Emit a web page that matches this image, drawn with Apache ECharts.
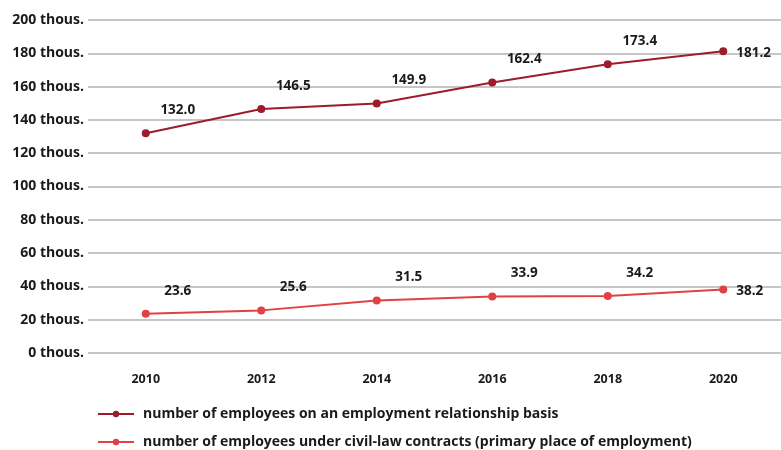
<!DOCTYPE html>
<html>
<head>
<meta charset="utf-8">
<script src="https://cdn.jsdelivr.net/npm/echarts@6/dist/echarts.min.js"></script>
<style>
html, body { margin: 0; padding: 0; background: #fff; }
#chart { width: 781px; height: 450px; }
</style>
</head>
<body>
<div id="chart"></div>
<script>
const years = ["2010", "2012", "2014", "2016", "2018", "2020"];
const employmentBasis = [132.0, 146.5, 149.9, 162.4, 173.4, 181.2];
const civilLaw = [23.6, 25.6, 31.5, 33.9, 34.2, 38.2];
const seriesNames = [
    "number of employees on an employment relationship basis",
    "number of employees under civil-law contracts (primary place of employment)"
];

const chart = echarts.init(document.getElementById("chart"));
const font = "'Open Sans', sans-serif";

function lineSeries(name, data, color) {
    return {
        name: name,
        type: "line",
        data: data.map((v, i) => ({
            value: v,
            label: i === data.length - 1
                ? { position: "right", offset: [4, 2] }
                : { position: "top", offset: [32, -7] }
        })),
        symbol: "circle",
        symbolSize: 8,
        itemStyle: { color: color },
        lineStyle: { color: color, width: 2 },
        label: {
            show: true,
            color: "#1a1a1a",
            fontFamily: font,
            fontWeight: "bold",
            fontSize: 13.5,
            formatter: p => p.value.toFixed(1)
        }
    };
}

chart.setOption({
    animation: false,
    textStyle: { fontFamily: font },
    grid: { left: 88, right: -7, top: 20, bottom: 97 },
    legend: {
        orient: "vertical",
        left: 92,
        top: 402,
        height: 80,
        itemWidth: 36,
        itemHeight: 8,
        itemGap: 14,
        textStyle: { fontFamily: font, fontSize: 14, fontWeight: "bold", color: "#1a1a1a", padding: [0, 0, 0, 4] },
        data: seriesNames
    },
    xAxis: {
        type: "category",
        data: years,
        axisLine: { show: false },
        axisTick: { show: false },
        axisLabel: { color: "#1a1a1a", fontWeight: "bold", fontSize: 12.5, margin: 20 }
    },
    yAxis: {
        type: "value",
        min: 0,
        max: 200,
        interval: 20,
        axisLabel: {
            color: "#1a1a1a",
            fontWeight: "bold",
            fontSize: 14,
            margin: 4,
            formatter: v => v + " thous."
        },
        splitLine: { lineStyle: { color: "#c6c6c6", width: 2 } }
    },
    series: [
        lineSeries(seriesNames[0], employmentBasis, "#9e1b2a"),
        lineSeries(seriesNames[1], civilLaw, "#e24144")
    ]
});
</script>
</body>
</html>
